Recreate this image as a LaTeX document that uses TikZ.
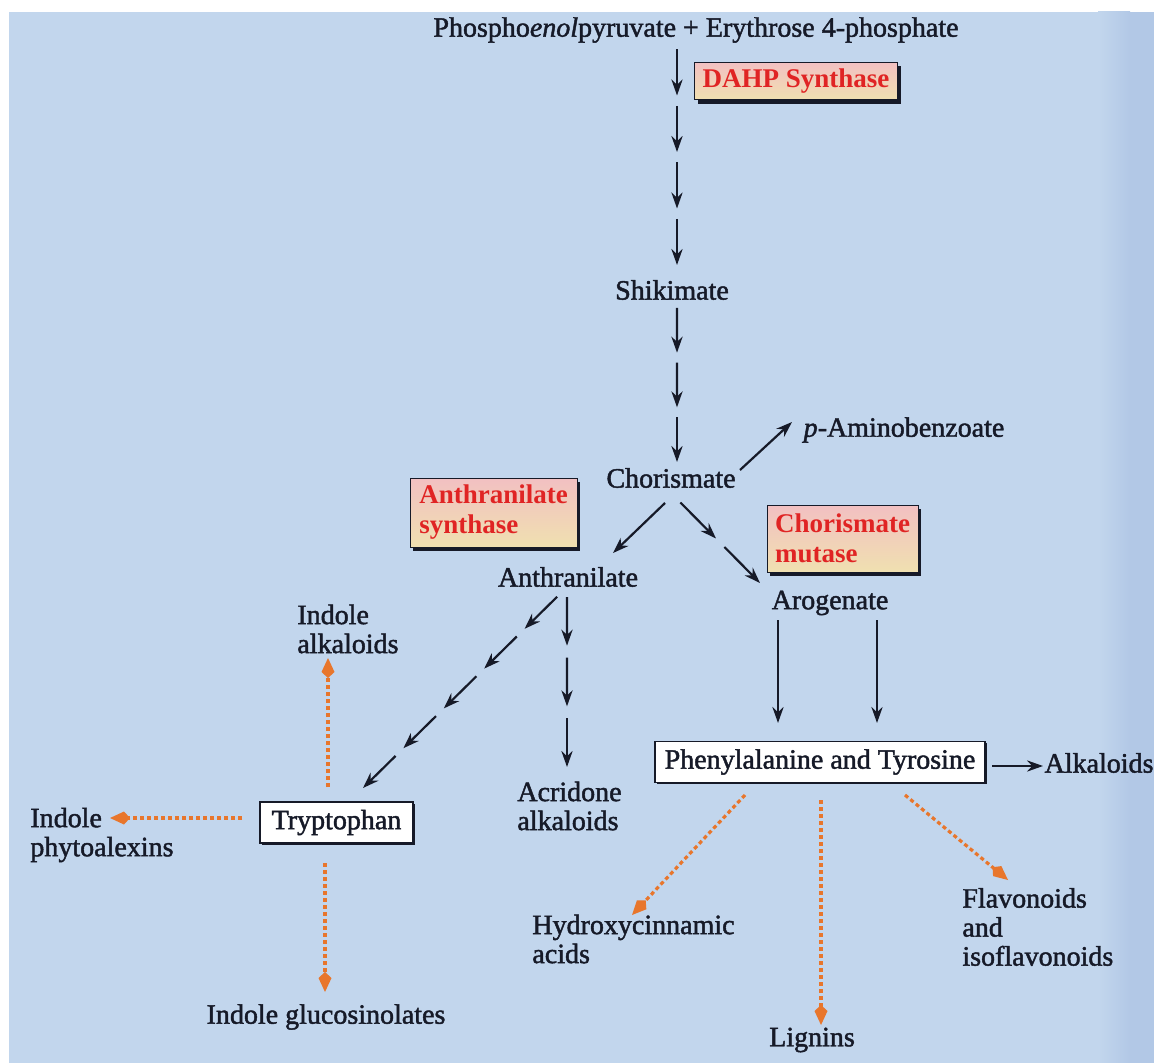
\documentclass[tikz,border=0pt]{standalone}
\usepackage{fontspec}
\setmainfont{Liberation Serif}
\newfontfamily\txtfont{Liberation Serif}[FakeBold=1.6]
\usetikzlibrary{arrows.meta,calc,shadows}
\definecolor{bg}{RGB}{194,214,237}
\definecolor{bgdark}{RGB}{178,200,230}
\definecolor{enzred}{RGB}{224,36,36}
\definecolor{ink}{RGB}{22,26,40}
\definecolor{org}{RGB}{232,118,44}
\definecolor{encA}{RGB}{242,192,194}
\definecolor{encB}{RGB}{240,224,176}
\newcommand\steparrows[4]{%
  \foreach \k in {1,...,#4}{%
    \pgfmathsetmacro\ta{(\k-1)/#4}%
    \pgfmathsetmacro\tb{\k/#4}%
    \draw[#1] ($(#2)!\ta!(#3)$) -- ($(#2)!\tb!(#3)$);
  }}
\tikzset{
  lbl/.style={text=ink, inner sep=1pt, font=\txtfont\fontsize{14}{14.5}\selectfont},
  lbll/.style={lbl, align=left, anchor=west},
  enz/.style={draw=ink, line width=0.5pt, top color=encA, bottom color=encB,
    text=enzred, font=\fontsize{13.5}{15}\selectfont\bfseries, align=left, inner xsep=4pt,
    drop shadow={shadow xshift=1.6pt, shadow yshift=-1.8pt, opacity=1, fill=ink}},
  wbox/.style={draw=ink, line width=0.9pt, fill=white, text=ink,
    font=\txtfont\fontsize{14}{14.5}\selectfont, minimum height=20.5pt,
    drop shadow={shadow xshift=0.8pt, shadow yshift=-0.8pt, opacity=1, fill=ink}},
  arr/.style={draw=ink, line width=1.1pt, -{Stealth[length=8pt,width=5.6pt]}},
  oarr/.style={draw=org, line width=1.6pt, dash pattern=on 2pt off 1.5pt,
    -{Kite[length=10pt,width=6.5pt,inset=3pt]}},
}
\begin{document}
\begin{tikzpicture}[x=0.5pt,y=-0.5pt]
% background
\fill[white] (0,0) rectangle (1154,1063);
\fill[bg] (9,12) rectangle (1154,1063);
\shade[left color=bg, right color=bgdark] (1098,12) rectangle (1130,1063);
\fill[bgdark] (1130,12) rectangle (1154,1063);
\path[use as bounding box] (0,0) rectangle (1154,1063);

% labels
\node[lbl] (top) at (696,30) {Phospho\textit{enol}pyruvate + Erythrose 4-phosphate};
\node[enz, minimum width=96pt, minimum height=18pt] (dahp) at (796,81) {DAHP Synthase};
\node[lbl] (shik) at (672,290) {Shikimate};
\node[lbl] (chor) at (671,478) {Chorismate};
\node[lbl] (paba) at (904,430) {\textit{p}-Aminobenzoate};
\node[enz, minimum width=83.5pt, minimum height=34.5pt] (antsyn) at (493.5,512.5) {Anthranilate\\synthase};
\node[enz, minimum width=74.5pt, minimum height=33.5pt] (cmut) at (842.5,538.5) {Chorismate\\mutase};
\node[lbl] (anth) at (568,577) {Anthranilate};
\node[lbl] (arog) at (830,603) {Arogenate};
\node[lbll] (indalk) at (295,629) {Indole\\alkaloids};
\node[lbll] (acr) at (515,806) {Acridone\\alkaloids};
\node[wbox, minimum width=76.5pt] (trp) at (336.5,822.5) {Tryptophan};
\node[lbll] (indphy) at (28,835) {Indole\\phytoalexins};
\node[lbl] (indglu) at (326,1017) {Indole glucosinolates};
\node[wbox, minimum width=165pt] (phe) at (820,762) {Phenylalanine and Tyrosine};
\node[lbl] (alk) at (1099,763) {Alkaloids};
\node[lbll] (hyd) at (530,939) {Hydroxycinnamic\\acids};
\node[lbl] (lig) at (812,1040) {Lignins};
\node[lbll] (flav) at (960,927) {Flavonoids\\and\\isoflavonoids};

% connector end points
\coordinate (a0) at (677,39);   \coordinate (a1) at (677,265);
\coordinate (b0) at (677,298);  \coordinate (b1) at (677,462);
\coordinate (p0) at (740,470);  \coordinate (p1) at (792,422);
\coordinate (c0) at (665,503);  \coordinate (c1) at (613,553);
\coordinate (r0) at (672,494);  \coordinate (r1) at (760,583);
\coordinate (d0) at (565,589);  \coordinate (d1) at (363,788);
\coordinate (e0) at (567,585);  \coordinate (e1) at (567,767);
\coordinate (f0) at (778,620);  \coordinate (f1) at (778,723);
\coordinate (g0) at (877,620);  \coordinate (g1) at (877,723);
\coordinate (h0) at (992,766);  \coordinate (h1) at (1043,766);
\coordinate (o1a) at (328,787); \coordinate (o1b) at (328,658);
\coordinate (o2a) at (242,818); \coordinate (o2b) at (110,818);
\coordinate (o3a) at (325,863); \coordinate (o3b) at (325,992);
\coordinate (o4a) at (745,795); \coordinate (o4b) at (632,915);
\coordinate (o5a) at (821,800); \coordinate (o5b) at (821,1025);
\coordinate (o6a) at (905,795); \coordinate (o6b) at (1008,880);

% black arrows
\steparrows{arr, shorten <=5.25pt}{a0}{a1}{4}
\steparrows{arr, shorten <=5pt}{b0}{b1}{3}
\draw[arr] (p0) -- (p1);
\draw[arr] (c0) -- (c1);
\steparrows{arr, shorten <=6pt}{r0}{r1}{2}
\steparrows{arr, shorten <=5.5pt}{d0}{d1}{5}
\steparrows{arr, shorten <=6pt}{e0}{e1}{3}
\draw[arr] (f0) -- (f1);
\draw[arr] (g0) -- (g1);
\draw[arr] (h0) -- (h1);

% orange dashed arrows
\draw[oarr] (o1a) -- (o1b);
\draw[oarr] (o2a) -- (o2b);
\draw[oarr] (o3a) -- (o3b);
\draw[oarr] (o4a) -- (o4b);
\draw[oarr] (o5a) -- (o5b);
\draw[oarr] (o6a) -- (o6b);
\end{tikzpicture}
\end{document}
